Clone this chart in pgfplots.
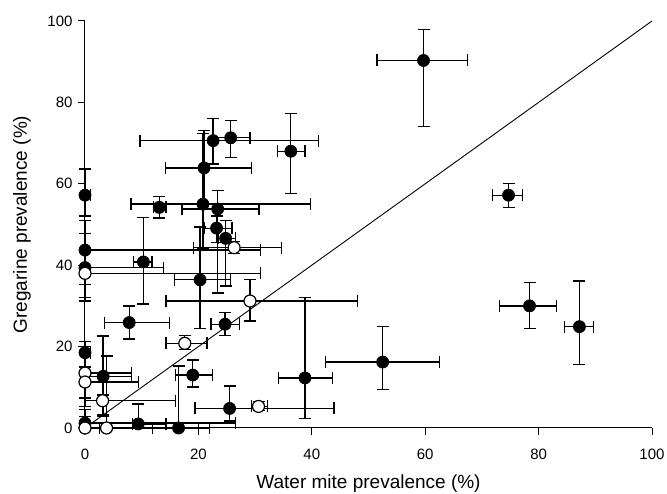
\documentclass[border=0pt]{standalone}
\usepackage{pgfplots}
\pgfplotsset{compat=1.18}
\usepackage{pgfplotstable}
\usepackage{fontspec}
\setmainfont{Liberation Sans}

\pgfplotstableread{
x y xm xp ym yp
0 57.2 0 1.0 5.1 6.4
22.6 70.6 12.9 18.6 5.7 5.4
25.7 71.3 3.0 3.4 4.8 4.2
21.0 63.9 6.8 8.4 9.0 9.2
20.8 55.0 12.7 19.0 11.0 17.4
13.1 54.2 1.0 1.2 2.6 2.7
23.4 53.8 6.3 7.3 20.6 4.5
23.2 49.1 2.2 2.7 3.5 3.0
24.8 46.6 1.3 1.7 11.7 4.4
20.3 36.4 4.5 5.3 11.9 13.0
36.3 68.0 2.3 2.5 10.4 9.2
0 43.7 0 30.9 8.4 4.1
0 39.4 0 13.8 7.4 11.5
10.3 40.8 1.7 1.5 10.3 10.9
7.8 25.9 4.3 7.1 4.0 4.1
24.7 25.5 2.5 2.5 2.7 2.8
0 18.5 0 1.0 3.5 2.8
3.2 12.7 3.2 5.0 9.5 9.9
19.0 13.0 3.1 3.5 2.9 3.7
38.8 12.3 4.7 4.9 10.0 19.7
25.5 4.8 6.1 18.4 3.1 5.5
9.4 1.0 1.0 4.9 1.0 4.9
16.5 0 4.6 5.4 0 15.2
0 1.2 0 26.6 1.2 3.4
59.7 90.3 8.2 7.8 16.2 7.6
74.7 57.2 2.8 2.5 3.0 2.8
78.4 30.0 5.3 4.8 5.6 5.7
87.2 24.9 2.6 2.5 9.3 11.2
52.5 16.2 10.1 10.0 6.7 8.8
}\filled

\pgfplotstableread{
x y xm xp ym yp
26.3 44.3 7.2 8.4 1.5 1.5
0 38.0 0 30.9 6.8 2.0
29.1 31.2 14.8 19.0 4.9 5.3
17.6 20.8 3.3 3.9 1.5 2.0
0 13.5 0 8.2 6.1 6.6
0 11.3 0 9.4 6.0 10.0
3.1 6.7 3.1 12.8 3.8 1.4
30.6 5.3 1.2 1.6 1.0 1.2
3.8 0 1.3 8.1 0 17.7
0 0 0 20.0 0 2.9
}\opened

\begin{document}
\begin{tikzpicture}
\useasboundingbox (-85pt,-66pt) rectangle (582pt,428pt);
\begin{axis}[
 scale only axis, width=567pt, height=407pt,
 xmin=0, xmax=100, ymin=0, ymax=100,
 axis x line*=bottom, axis y line*=left,
 axis line style={-, line width=1pt},
 xtick={0,20,...,100}, ytick={0,20,...,100},
 xtick align=outside, ytick align=outside, major tick length=7pt,
 tick style={line width=1pt, black},
 /pgf/number format/assume math mode=true,
 ticklabel style={font=\fontsize{15}{18}\selectfont},
 xticklabel style={yshift=-10pt},
 yticklabel style={xshift=-2pt},
 xlabel={Water mite prevalence (\%)},
 ylabel={Gregarine prevalence (\%)},
 label style={font=\fontsize{19}{23}\selectfont},
 xlabel style={at={(axis description cs:0.5,-0.1376)}, anchor=center},
 ylabel style={at={(axis description cs:-0.111,0.5)}, anchor=center},
 clip=false,
]
\addplot[black, line width=0.9pt, no marks] coordinates {(0,0) (100,100)};
\addplot[only marks, mark=*, mark size=6pt,
  mark options={fill=black, draw=black, line width=0.8pt},
  error bars/.cd, x dir=both, x explicit, y dir=both, y explicit,
  error mark=|,
  error bar style={line width=1.3pt, black},
  error mark options={line width=1.3pt, black, mark size=6pt}]
  table[x=x, y=y, x error plus=xp, x error minus=xm, y error plus=yp, y error minus=ym]{\filled};
\addplot[only marks, mark=*, mark size=6pt,
  mark options={fill=white, draw=black, line width=1.2pt},
  error bars/.cd, x dir=both, x explicit, y dir=both, y explicit,
  error mark=|,
  error bar style={line width=1.3pt, black},
  error mark options={line width=1.3pt, black, mark size=6pt}]
  table[x=x, y=y, x error plus=xp, x error minus=xm, y error plus=yp, y error minus=ym]{\opened};
\end{axis}
\end{tikzpicture}
\end{document}
